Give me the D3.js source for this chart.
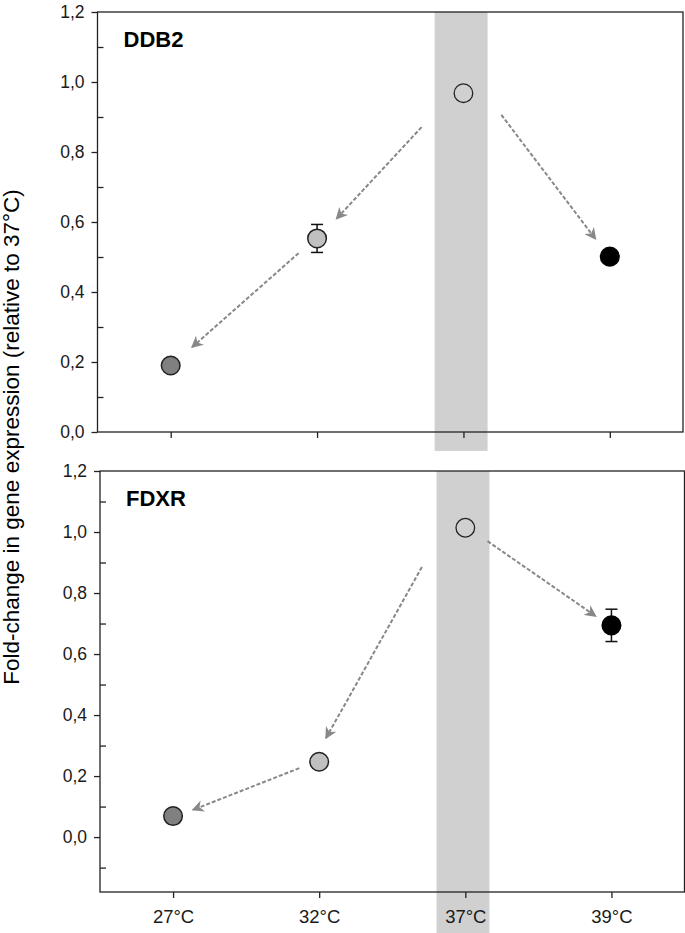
<!DOCTYPE html>
<html>
<head>
<meta charset="utf-8">
<script src="https://cdn.jsdelivr.net/npm/d3@7"></script>
<style>
  body { margin: 0; background: #fff; }
  svg { display: block; font-family: "Liberation Sans", Arial, sans-serif; }
</style>
</head>
<body>
<div id="chart"></div>
<script>
// temperatures on the x axis
const temps = ["27°C", "32°C", "37°C", "39°C"];
const pointFills = ["#808080", "#c0c0c0", "none", "#000000"];

// DDB2 fold-change (relative to 37°C)
const ddb2Mean = [0.19, 0.553, 0.968, 0.501];
const ddb2Err = [0, 0.04, 0, 0];
// arrows, [fromIndex, fromValue, toIndex, toValue]
const ddb2Arrows = [
  [1.714, 0.871, 1.132, 0.609],
  [0.874, 0.511, 0.145, 0.242],
  [2.259, 0.906, 2.903, 0.551]
];

// FDXR fold-change (relative to 37°C)
const fdxrMean = [0.069, 0.247, 1.014, 0.694];
const fdxrErr = [0, 0, 0, 0.053];
const fdxrArrows = [
  [1.703, 0.885, 1.046, 0.324],
  [0.864, 0.226, 0.135, 0.089],
  [2.152, 0.970, 2.893, 0.724]
];

// reference band around 37°C (in category-index units)
const bandRange = [1.803, 2.165];

const majorTicks = [0, 0.2, 0.4, 0.6, 0.8, 1.0, 1.2];
const minorTicksTop = [0.1, 0.3, 0.5, 0.7, 0.9, 1.1];
const minorTicksBottom = [-0.1, 0.1, 0.3, 0.5, 0.7, 0.9, 1.1];

const W = 685, H = 933;
const svg = d3.select("#chart").append("svg")
  .attr("width", W).attr("height", H);

const fmt = d => d3.format(".1f")(d).replace(".", ",");

// arrow head marker
svg.append("defs").append("marker")
  .attr("id", "head")
  .attr("viewBox", "0 0 10 10")
  .attr("refX", 9).attr("refY", 5)
  .attr("markerWidth", 6).attr("markerHeight", 6)
  .attr("markerUnits", "strokeWidth")
  .attr("orient", "auto")
  .append("path")
  .attr("d", "M0,0 L10,5 L0,10 L3,5 Z")
  .attr("fill", "#888");

function drawPanel(opt) {
  const { left, right, top, bottom, yDomain, mean, err, arrows, label, minor, showX, bandTo } = opt;

  const x = d3.scaleLinear().domain([-0.5, 3.5]).range([left, right]);
  const y = d3.scaleLinear().domain(yDomain).range([bottom, top]);

  const g = svg.append("g");

  // gray band behind 37°C
  g.append("rect")
    .attr("x", x(bandRange[0]))
    .attr("width", x(bandRange[1]) - x(bandRange[0]))
    .attr("y", top)
    .attr("height", y(bandTo) - top)
    .attr("fill", "#d0d0d0");

  // frame
  g.append("rect")
    .attr("x", left).attr("y", top)
    .attr("width", right - left).attr("height", bottom - top)
    .attr("fill", "none").attr("stroke", "#222").attr("stroke-width", 1.3);

  // y axis major ticks (outside) + labels
  const yAxis = d3.axisLeft(y).tickValues(majorTicks).tickFormat(fmt).tickSize(6).tickPadding(7);
  const ya = g.append("g").attr("transform", `translate(${left},0)`).call(yAxis);
  ya.select(".domain").remove();
  ya.selectAll("line").attr("stroke", "#222").attr("stroke-width", 1.3);
  ya.selectAll("text").attr("font-size", 17.5).attr("fill", "#1a1a1a")
    .attr("font-family", "'Liberation Sans', Arial, sans-serif");

  // minor ticks (inside)
  const ym = g.append("g").attr("transform", `translate(${left},0)`)
    .call(d3.axisRight(y).tickValues(minor).tickFormat("").tickSize(6));
  ym.select(".domain").remove();
  ym.selectAll("line").attr("stroke", "#222").attr("stroke-width", 1.3);

  // x axis ticks
  const xAxis = d3.axisBottom(x).tickValues(d3.range(temps.length))
    .tickFormat(i => showX ? temps[i] : "").tickSize(6).tickPadding(12);
  const xa = g.append("g").attr("transform", `translate(0,${bottom})`).call(xAxis);
  xa.select(".domain").remove();
  xa.selectAll("line").attr("stroke", "#222").attr("stroke-width", 1.3);
  xa.selectAll("text").attr("font-size", 18.5).attr("fill", "#1a1a1a")
    .attr("font-family", "'Liberation Sans', Arial, sans-serif");

  // dashed arrows
  g.selectAll("line.arrow").data(arrows).join("line")
    .attr("class", "arrow")
    .attr("x1", d => x(d[0])).attr("y1", d => y(d[1]))
    .attr("x2", d => x(d[2])).attr("y2", d => y(d[3]))
    .attr("stroke", "#888").attr("stroke-width", 2)
    .attr("stroke-dasharray", "4,2")
    .attr("marker-end", "url(#head)");

  // error bars
  const eb = g.selectAll("g.err").data(mean.map((m, i) => ({ m, e: err[i], i })).filter(d => d.e > 0))
    .join("g").attr("class", "err");
  eb.append("line")
    .attr("x1", d => x(d.i)).attr("x2", d => x(d.i))
    .attr("y1", d => y(d.m - d.e)).attr("y2", d => y(d.m + d.e))
    .attr("stroke", "#111").attr("stroke-width", 1.5);
  eb.selectAll("line.cap").data(d => [d.m - d.e, d.m + d.e].map(v => ({ v, i: d.i }))).join("line")
    .attr("class", "cap")
    .attr("x1", d => x(d.i) - 6).attr("x2", d => x(d.i) + 6)
    .attr("y1", d => y(d.v)).attr("y2", d => y(d.v))
    .attr("stroke", "#111").attr("stroke-width", 1.5);

  // points
  g.selectAll("circle.pt").data(mean).join("circle")
    .attr("class", "pt")
    .attr("cx", (d, i) => x(i)).attr("cy", d => y(d))
    .attr("r", 9.3)
    .attr("fill", (d, i) => pointFills[i])
    .attr("stroke", (d, i) => i === 3 ? "#000" : "#222")
    .attr("stroke-width", (d, i) => i === 2 ? 1.3 : 1.5);

  // gene label
  g.append("text")
    .attr("x", left + 26).attr("y", top + 35)
    .attr("font-size", 22).attr("font-weight", "bold").attr("fill", "#000")
    .text(label);
}

drawPanel({
  left: 97.5, right: 683, top: 12, bottom: 432,
  yDomain: [0, 1.2], mean: ddb2Mean, err: ddb2Err, arrows: ddb2Arrows,
  label: "DDB2", minor: minorTicksTop, showX: false, bandTo: -0.054
});

drawPanel({
  left: 100, right: 684.5, top: 471, bottom: 892,
  yDomain: [-0.18, 1.2], mean: fdxrMean, err: fdxrErr, arrows: fdxrArrows,
  label: "FDXR", minor: minorTicksBottom, showX: true, bandTo: -0.5
});

// shared y-axis title
svg.append("text")
  .attr("transform", `translate(19,${437}) rotate(-90)`)
  .attr("text-anchor", "middle")
  .attr("font-size", 22.5).attr("fill", "#000")
  .text("Fold-change in gene expression (relative to 37°C)");
</script>
</body>
</html>
